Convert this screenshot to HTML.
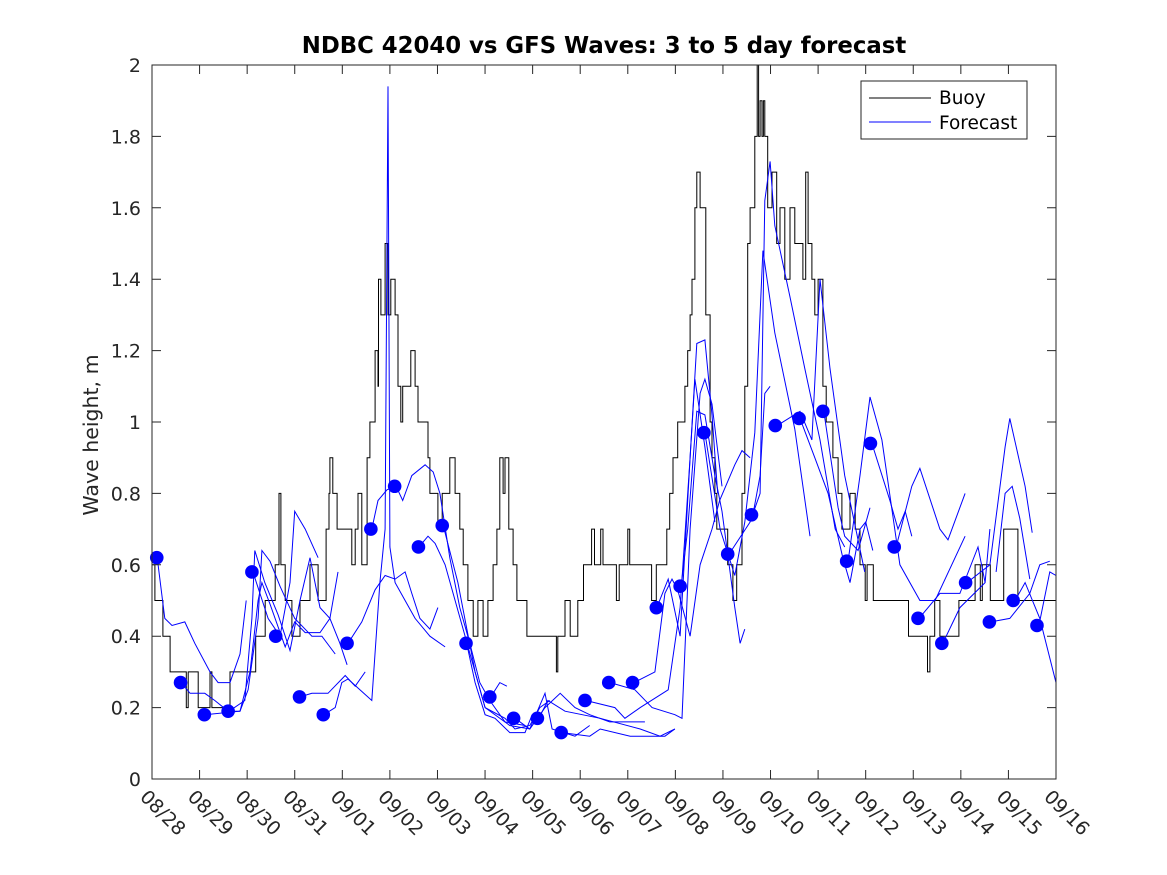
<!DOCTYPE html>
<html><head><meta charset="utf-8"><style>
html,body{margin:0;padding:0;background:#fff}
svg{display:block;font-family:"DejaVu Sans","Liberation Sans",sans-serif}
</style></head><body>
<svg id="chart" width="1167" height="875" viewBox="0 0 1167 875" xmlns="http://www.w3.org/2000/svg">
<rect x="0" y="0" width="1167" height="875" fill="#fff"/>
<rect x="152" y="65" width="904" height="714" fill="#fff"/>
<g id="series"></g>
<g id="axes"></g>
<text x="604" y="53" text-anchor="middle" font-size="22.8" font-weight="bold" fill="#000">NDBC 42040 vs GFS Waves: 3 to 5 day forecast</text>
<text transform="translate(98,435) rotate(-90)" text-anchor="middle" font-size="20.5" fill="#262626">Wave height, m</text>
<g>
<rect x="861" y="81" width="166" height="58" fill="#fff" stroke="#262626" stroke-width="1"/>
<line x1="869" y1="98" x2="931" y2="98" stroke="#000" stroke-width="1"/>
<text x="939" y="104" font-size="18.5" fill="#000">Buoy</text>
<line x1="869" y1="122" x2="931" y2="122" stroke="#00f" stroke-width="1"/>
<text x="939" y="129" font-size="18.5" fill="#000">Forecast</text>
</g>
</svg>
<script>
const xLabels = ["08/28","08/29","08/30","08/31","09/01","09/02","09/03","09/04","09/05","09/06","09/07","09/08","09/09","09/10","09/11","09/12","09/13","09/14","09/15","09/16"];
const yTicks = [0,0.2,0.4,0.6,0.8,1,1.2,1.4,1.6,1.8,2];
const buoyTimes = [0,0.06,0.17,0.23,0.38,0.72,0.76,0.92,0.97,1.22,1.26,1.64,2.18,2.38,2.59,2.67,2.71,2.80,2.94,3.11,3.32,3.49,3.66,3.72,3.74,3.80,3.89,4.2,4.27,4.33,4.41,4.52,4.58,4.69,4.75,4.76,4.81,4.9,4.96,5.02,5.11,5.17,5.23,5.27,5.38,5.44,5.53,5.59,5.8,5.84,6.01,6.1,6.26,6.37,6.47,6.54,6.64,6.75,6.85,6.96,7.06,7.17,7.25,7.31,7.38,7.42,7.5,7.59,7.67,7.88,8.5,8.53,8.68,8.79,8.95,9.07,9.24,9.3,9.43,9.48,9.76,9.82,10.0,10.04,10.5,10.6,10.82,10.88,10.95,11.05,11.2,11.26,11.31,11.35,11.41,11.45,11.52,11.64,11.73,11.77,11.83,11.87,12.1,12.21,12.29,12.4,12.46,12.52,12.57,12.67,12.72,12.75,12.78,12.82,12.85,12.88,12.94,13.03,13.13,13.2,13.3,13.41,13.51,13.68,13.74,13.79,13.87,13.93,14.0,14.1,14.17,14.31,14.42,14.5,14.67,14.78,14.88,14.99,15.03,15.16,15.9,16.3,16.35,16.45,16.56,16.96,17.3,17.41,17.45,17.62,17.9,18.2,19.0];
const buoyValues = [0.6,0.5,0.5,0.4,0.3,0.2,0.3,0.3,0.2,0.3,0.2,0.3,0.4,0.5,0.6,0.8,0.6,0.5,0.4,0.5,0.6,0.5,0.7,0.8,0.9,0.8,0.7,0.6,0.7,0.8,0.6,0.9,1.0,1.2,1.1,1.4,1.3,1.5,1.3,1.4,1.3,1.1,1.0,1.1,1.1,1.2,1.1,1.0,0.9,0.8,0.7,0.8,0.9,0.8,0.7,0.6,0.5,0.4,0.5,0.4,0.5,0.6,0.7,0.9,0.8,0.9,0.7,0.6,0.5,0.4,0.3,0.4,0.5,0.4,0.5,0.6,0.7,0.6,0.7,0.6,0.5,0.6,0.7,0.6,0.5,0.6,0.7,0.8,0.9,1.0,1.1,1.2,1.3,1.4,1.6,1.7,1.6,1.3,1.0,0.9,0.8,0.7,0.6,0.5,0.6,0.8,1.1,1.5,1.6,1.8,2.0,1.8,1.9,1.8,1.9,1.8,1.6,1.7,1.5,1.6,1.4,1.6,1.5,1.4,1.7,1.5,1.4,1.3,1.4,1.1,1.0,0.9,0.8,0.7,0.8,0.7,0.6,0.5,0.6,0.5,0.4,0.3,0.4,0.5,0.4,0.5,0.6,0.5,0.6,0.5,0.7,0.5,0.5];
const dotValues = [0.62,0.27,0.18,0.19,0.58,0.40,0.23,0.18,0.38,0.70,0.82,0.65,0.71,0.38,0.23,0.17,0.17,0.13,0.22,0.27,0.27,0.48,0.54,0.97,0.63,0.74,0.99,1.01,1.03,0.61,0.94,0.65,0.45,0.38,0.55,0.44,0.50,0.43];
const dotStart = 0.1, dotStep = 0.5;
const fcTimes = [
[0.11,0.27,0.42,0.69,0.9,1.22,1.39,1.64,1.85,1.98],
[0.61,0.8,1.11,1.32,1.6,1.85,2.02,2.23,2.31,2.48,2.69,3.0,3.36,3.57,3.85],
[1.11,1.85,2.06,2.23,2.31,2.48,2.8,3.0,3.22,3.53,3.74,3.91],
[1.62,1.95,2.1,2.16,2.37,2.65,2.9,3.11,3.32,3.53,3.74,3.95,4.1],
[2.12,2.44,2.69,2.9,3.0,3.22,3.49],
[3.11,3.36,3.7,4.06,4.27,4.48],
[3.61,3.85,3.99,4.12,4.37,4.62,4.79,4.9,4.96,5.0,5.11,5.32,5.53,5.84,6.16],
[4.12,4.41,4.69,4.9,5.11,5.32,5.46,5.63,5.84,6.01],
[4.62,4.75,4.94,5.13,5.27,5.46,5.74,5.91,6.05,6.26,6.47,6.68,6.89,7.1,7.42,7.84],
[5.61,5.8,5.95,6.16,6.37,6.58,6.79,7.0,7.21,7.52,7.84,7.99],
[6.12,6.43,6.79,7.0,7.42,7.63,7.94,8.15,8.36],
[6.62,7.0,7.52,7.94,8.26,8.41,8.89,9.2],
[7.12,7.31,7.46],
[7.63,7.94,8.26,8.58,8.89,9.2,9.62,10.36],
[8.13,8.32,8.68,9.42,10.26,10.68,10.99],
[8.62,9.2,9.42,10.05,10.78,10.99],
[9.12,9.73,9.94,10.26,10.85,11.1,11.31,11.45,11.62,11.77,11.89],
[9.63,10.15,10.51,10.99,11.14,11.31,11.52,11.62,11.77,11.98],
[10.13,10.57,10.78,10.93,11.05,11.31,11.52,11.77,11.93,12.25,12.4,12.57],
[10.61,10.85,11.1,11.31,11.41,11.62,11.83],
[11.12,11.26,11.45,11.62,11.83,11.98,12.25,12.36,12.46],
[11.62,11.94,12.25,12.46,12.67,12.84,13.09,13.51,13.83],
[12.13,12.57,12.78,12.88,12.99,13.09,13.41,13.72,14.04,14.36,14.56],
[12.63,12.78,12.88,12.99],
[13.14,13.62,13.87,14.04,14.25,14.56,14.98],
[13.62,13.93,14.21,14.52,14.67,14.88,15.0,15.15],
[14.12,14.42,14.56,14.84,15.09],
[14.63,14.88,15.09,15.34,15.72,16.14,16.46,17.09],
[15.13,15.51,15.68,15.83,15.97],
[15.64,15.97,16.14,16.56,16.73,17.09],
[16.12,16.56,16.98,17.36,17.51],
[16.62,16.98,17.51,17.61],
[17.13,17.61,17.93,18.03,18.35,18.5],
[17.63,18.03,18.45,18.66,18.87],
[18.14,18.35,18.66,19.0],
[18.64,18.87,19.0],
[17.74,17.93,18.08,18.24,18.45]
];
const fcValues = [
[0.62,0.45,0.43,0.44,0.38,0.30,0.27,0.27,0.35,0.50],
[0.27,0.24,0.24,0.22,0.19,0.19,0.25,0.45,0.64,0.61,0.54,0.45,0.40,0.40,0.35],
[0.18,0.19,0.30,0.50,0.55,0.49,0.37,0.44,0.41,0.41,0.45,0.58],
[0.19,0.22,0.45,0.64,0.55,0.46,0.36,0.50,0.62,0.48,0.45,0.38,0.32],
[0.58,0.45,0.40,0.55,0.75,0.70,0.62],
[0.23,0.24,0.24,0.29,0.26,0.30],
[0.18,0.20,0.27,0.28,0.25,0.22,0.55,0.70,1.94,0.65,0.55,0.50,0.45,0.40,0.37],
[0.38,0.44,0.53,0.57,0.56,0.58,0.52,0.45,0.42,0.48],
[0.70,0.78,0.81,0.82,0.78,0.85,0.88,0.86,0.80,0.62,0.48,0.38,0.27,0.22,0.16,0.15],
[0.65,0.68,0.66,0.60,0.50,0.40,0.27,0.18,0.17,0.13,0.13,0.18],
[0.71,0.55,0.30,0.20,0.17,0.14,0.15,0.20,0.22],
[0.38,0.20,0.15,0.14,0.24,0.14,0.12,0.15],
[0.23,0.27,0.26],
[0.17,0.14,0.20,0.24,0.20,0.18,0.16,0.16],
[0.17,0.22,0.19,0.17,0.14,0.12,0.14],
[0.13,0.12,0.14,0.12,0.12,0.14],
[0.22,0.20,0.17,0.20,0.25,0.48,0.90,1.22,1.23,1.02,0.80],
[0.27,0.25,0.20,0.18,0.17,0.70,1.08,1.12,1.05,0.82],
[0.27,0.30,0.52,0.56,0.53,0.40,0.60,0.70,0.78,0.88,0.92,0.90],
[0.48,0.56,0.40,0.90,1.12,0.93,0.72],
[0.54,0.70,1.03,1.02,0.85,0.75,0.48,0.38,0.42],
[0.97,0.70,0.57,0.72,0.97,1.48,1.25,0.98,0.68],
[0.63,0.72,0.80,1.62,1.73,1.55,1.35,1.15,0.95,0.70,0.65],
[0.74,0.85,1.08,1.10],
[0.99,1.03,0.95,1.40,1.15,0.85,0.58],
[1.01,0.90,0.80,0.62,0.55,0.70,0.72,0.64],
[1.03,0.76,0.68,0.64,0.76],
[0.61,0.85,1.07,0.95,0.60,0.50,0.50,0.68],
[0.94,0.78,0.70,0.75,0.68],
[0.65,0.82,0.87,0.70,0.67,0.80],
[0.45,0.52,0.52,0.65,0.55],
[0.38,0.48,0.55,0.70],
[0.55,0.60,0.93,1.01,0.82,0.69],
[0.44,0.45,0.52,0.60,0.61],
[0.50,0.55,0.45,0.27],
[0.43,0.58,0.57],
[0.58,0.80,0.82,0.73,0.56]
];

const X0=152, X1=1056, Y0=779, Y1=65, XMAX=19, YMAX=2;
const sx = d => X0 + (X1-X0)*d/XMAX;
const sy = v => Y0 - (Y0-Y1)*v/YMAX;
const NS="http://www.w3.org/2000/svg";
const series=document.getElementById('series');
const axes=document.getElementById('axes');
function mk(tag, attrs){const e=document.createElementNS(NS,tag);for(const k in attrs)e.setAttribute(k,attrs[k]);return e;}

let d="M"+sx(buoyTimes[0])+","+sy(buoyValues[0]);
for(let i=1;i<buoyTimes.length;i++){d+=" H"+sx(buoyTimes[i]).toFixed(1)+" V"+sy(buoyValues[i]).toFixed(1);}
const bl=mk('path',{d:d,fill:'none',stroke:'#000','stroke-width':1});


series.appendChild(bl);

fcTimes.forEach((ts,j)=>{
  const pts=ts.map((t,i)=>sx(t).toFixed(1)+","+sy(fcValues[j][i]).toFixed(1)).join(" ");
  const p=mk('polyline',{points:pts,fill:'none',stroke:'#00f','stroke-width':1});
  
  
  series.appendChild(p);
});

dotValues.forEach((v,i)=>{
  const c=mk('circle',{cx:sx(dotStart+dotStep*i),cy:sy(v),r:6.8,fill:'#00f'});
  
  
  series.appendChild(c);
});

const box=mk('rect',{x:X0,y:Y1,width:X1-X0,height:Y0-Y1,fill:'none',stroke:'#262626','stroke-width':1});


axes.appendChild(box);

yTicks.forEach(v=>{
  const y=sy(v);
  const t=mk('path',{d:`M${X0},${y}h9M${X1},${y}h-9`,stroke:'#262626','stroke-width':1});
  
  
  axes.appendChild(t);
  const l=mk('text',{x:X0-11,y:y+7,'text-anchor':'end','font-size':19,fill:'#262626'});
  l.textContent=String(v);
  
  
  axes.appendChild(l);
});

xLabels.forEach((s,i)=>{
  const x=sx(i);
  const t=mk('path',{d:`M${x},${Y0}v-9M${x},${Y1}v9`,stroke:'#262626','stroke-width':1});
  
  
  axes.appendChild(t);
  const l=mk('text',{transform:`translate(${x-13},${Y0+19}) rotate(45)`,'font-size':19,fill:'#262626'});
  l.textContent=s;
  
  
  axes.appendChild(l);
});
</script>
</body></html>
